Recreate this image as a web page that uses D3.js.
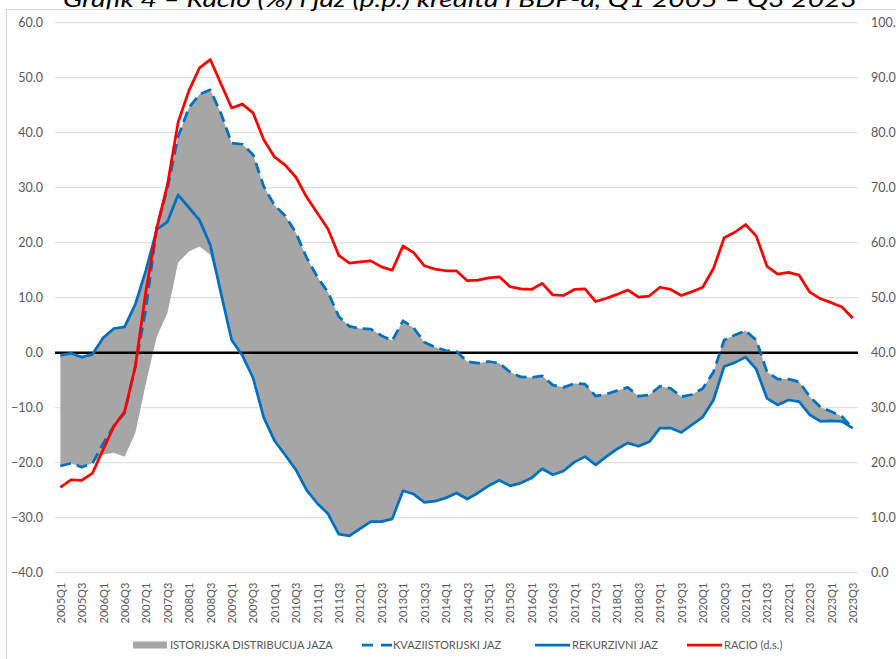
<!DOCTYPE html>
<html>
<head>
<meta charset="utf-8">
<script src="https://cdn.jsdelivr.net/npm/d3@7/dist/d3.min.js"></script>
<style>
  body { margin: 0; background: #fff; }
  svg { display: block; }
  text { font-family: Lato, "Open Sans", sans-serif; }
</style>
</head>
<body>
<div id="chart"></div>
<script>
const quarters = [
  "2005Q1","2005Q2","2005Q3","2005Q4","2006Q1","2006Q2","2006Q3","2006Q4",
  "2007Q1","2007Q2","2007Q3","2007Q4","2008Q1","2008Q2","2008Q3","2008Q4",
  "2009Q1","2009Q2","2009Q3","2009Q4","2010Q1","2010Q2","2010Q3","2010Q4",
  "2011Q1","2011Q2","2011Q3","2011Q4","2012Q1","2012Q2","2012Q3","2012Q4",
  "2013Q1","2013Q2","2013Q3","2013Q4","2014Q1","2014Q2","2014Q3","2014Q4",
  "2015Q1","2015Q2","2015Q3","2015Q4","2016Q1","2016Q2","2016Q3","2016Q4",
  "2017Q1","2017Q2","2017Q3","2017Q4","2018Q1","2018Q2","2018Q3","2018Q4",
  "2019Q1","2019Q2","2019Q3","2019Q4","2020Q1","2020Q2","2020Q3","2020Q4",
  "2021Q1","2021Q2","2021Q3","2021Q4","2022Q1","2022Q2","2022Q3","2022Q4",
  "2023Q1","2023Q2","2023Q3"
];

// kvaziistorijski jaz (p.p.)
const kvazi = [
  -20.6, -20.1, -20.8, -20.1, -16.5, -13.3, -11.0, -2.5, 8.0, 22.8,
  29.8, 39.3, 44.5, 47.0, 47.8, 43.5, 38.1, 37.9, 36.0, 30.2,
  26.8, 24.9, 21.8, 17.3, 13.8, 11.0, 6.6, 4.8, 4.4, 4.3,
  3.1, 2.2, 5.8, 4.5, 1.9, 1.0, 0.4, 0.2, -1.6, -1.9,
  -1.6, -1.9, -3.5, -4.4, -4.5, -4.2, -5.9, -6.3, -5.6, -5.7,
  -7.9, -7.5, -6.9, -6.3, -7.9, -7.7, -6.1, -6.5, -8.0, -7.6,
  -6.5, -3.5, 2.3, 3.2, 4.0, 2.3, -3.5, -4.8, -4.8, -5.3,
  -8.0, -9.9, -10.7, -11.6, -13.7
];

// rekurzivni jaz (p.p.)
const rekurzivni = [
  -0.5, -0.1, -0.8, -0.3, 2.7, 4.4, 4.7, 8.8, 15.0, 22.4,
  23.8, 28.7, 26.4, 24.1, 19.6, 10.8, 2.3, -0.5, -4.6, -11.8,
  -16.0, -18.6, -21.3, -25.0, -27.4, -29.3, -33.0, -33.3, -32.0, -30.7,
  -30.7, -30.2, -25.1, -25.7, -27.2, -27.0, -26.4, -25.5, -26.6, -25.5,
  -24.2, -23.2, -24.2, -23.7, -22.8, -21.1, -22.2, -21.5, -19.9, -18.9,
  -20.4, -18.9, -17.5, -16.4, -17.0, -16.2, -13.7, -13.7, -14.5, -13.1,
  -11.7, -8.6, -2.5, -1.8, -0.8, -3.0, -8.3, -9.5, -8.6, -8.9,
  -11.3, -12.5, -12.4, -12.5, -13.7
];

// racio kredita i BDP-a (%), desna skala
const racio = [
  15.5, 16.9, 16.8, 18.1, 22.4, 26.6, 29.3, 37.5, 51.3, 62.6,
  70.5, 81.9, 87.6, 91.8, 93.3, 88.9, 84.5, 85.2, 83.6, 78.7,
  75.6, 74.1, 71.9, 68.3, 65.4, 62.5, 57.7, 56.3, 56.5, 56.7,
  55.6, 55.0, 59.4, 58.2, 55.8, 55.2, 54.9, 54.9, 53.1, 53.2,
  53.6, 53.8, 52.0, 51.6, 51.5, 52.6, 50.5, 50.4, 51.5, 51.6,
  49.3, 49.9, 50.6, 51.4, 50.1, 50.3, 51.9, 51.5, 50.4, 51.1,
  51.9, 55.3, 60.9, 61.9, 63.3, 61.2, 55.7, 54.3, 54.6, 54.1,
  51.0, 49.8, 49.1, 48.3, 46.3
];

// istorijska distribucija jaza: donja i gornja granica
const histLow = [
  -20.6, -20.1, -20.8, -20.1, -18.5, -18.2, -18.9, -14.6, -5.5, 2.9,
  7.2, 16.4, 18.4, 19.3, 17.8, 10.8, 2.3, -0.5, -4.6, -11.8,
  -16.0, -18.6, -21.3, -25.0, -27.4, -29.3, -33.0, -33.3, -32.0, -30.7,
  -30.7, -30.2, -25.1, -25.7, -27.2, -27.0, -26.4, -25.5, -26.6, -25.5,
  -24.2, -23.2, -24.2, -23.7, -22.8, -21.1, -22.2, -21.5, -19.9, -18.9,
  -20.4, -18.9, -17.5, -16.4, -17.0, -16.2, -13.7, -13.7, -14.5, -13.1,
  -11.7, -8.6, -2.5, -1.8, -0.8, -3.0, -8.3, -9.5, -8.6, -8.9,
  -11.3, -12.5, -12.4, -12.5, -13.7
];
const histHigh = [
  -0.5, -0.1, -0.8, -0.3, 2.7, 4.4, 4.7, 8.8, 15.0, 22.8,
  29.8, 39.3, 44.5, 47.0, 47.8, 43.5, 38.1, 37.9, 36.0, 30.2,
  26.8, 24.9, 21.8, 17.3, 13.8, 11.0, 6.6, 4.8, 4.4, 4.3,
  3.1, 2.2, 5.8, 4.5, 1.9, 1.0, 0.4, 0.2, -1.6, -1.9,
  -1.6, -1.9, -3.5, -4.4, -4.5, -4.2, -5.9, -6.3, -5.6, -5.7,
  -7.9, -7.5, -6.9, -6.3, -7.9, -7.7, -6.1, -6.5, -8.0, -7.6,
  -6.5, -3.5, 2.3, 3.2, 4.0, 2.3, -3.5, -4.8, -4.8, -5.3,
  -8.0, -9.9, -10.7, -11.6, -13.7
];

const leftTicks = [-40, -30, -20, -10, 0, 10, 20, 30, 40, 50, 60];
const rightTicks = [0, 10, 20, 30, 40, 50, 60, 70, 80, 90, 100];

const legendItems = [
  { label: "ISTORIJSKA DISTRIBUCIJA JAZA", type: "area" },
  { label: "KVAZIISTORIJSKI JAZ", type: "dash" },
  { label: "REKURZIVNI JAZ", type: "blue" },
  { label: "RACIO (d.s.)", type: "red" }
];

const titleText = "Grafik 4 – Racio (%) i jaz (p.p.) kredita i BDP-a, Q1 2005 – Q3 2023";

const W = 896, H = 659;
const plotLeft = 55, plotRight = 858, plotTop = 22.7, plotBottom = 572.7;
const blue = "#0070c0", red = "#ff0000", grey = "#a6a6a6", textCol = "#595959";

const svg = d3.select("#chart").append("svg").attr("width", W).attr("height", H);

// chart frame + title above it (cut by the top edge, as in the original)
svg.append("rect")
  .attr("x", 6.5).attr("y", 9.5)
  .attr("width", W).attr("height", H)
  .attr("fill", "none").attr("stroke", "#d9d9d9");

svg.append("text")
  .attr("x", 63).attr("y", 6.5)
  .attr("textLength", 794).attr("lengthAdjust", "spacingAndGlyphs")
  .attr("font-size", 22).attr("font-style", "italic")
  .attr("fill", "#000")
  .text(titleText);

const x = d3.scalePoint().domain(quarters).range([plotLeft, plotRight]).padding(0.5);
const yL = d3.scaleLinear().domain([-40, 60]).range([plotBottom, plotTop]);
const yR = d3.scaleLinear().domain([0, 100]).range([plotBottom, plotTop]);

// gridlines
svg.append("g")
  .selectAll("line")
  .data(leftTicks.filter(d => d !== 0))
  .join("line")
  .attr("x1", plotLeft).attr("x2", plotRight)
  .attr("y1", d => yL(d)).attr("y2", d => yL(d))
  .attr("stroke", "#d9d9d9").attr("stroke-width", 1);

// axes
const axL = svg.append("g")
  .attr("transform", `translate(${plotLeft},0)`)
  .call(d3.axisLeft(yL).tickValues(leftTicks).tickFormat(d3.format(".1f")).tickSize(0).tickPadding(12));
const axR = svg.append("g")
  .attr("transform", `translate(${plotRight},0)`)
  .call(d3.axisRight(yR).tickValues(rightTicks).tickFormat(d3.format(".1f")).tickSize(0).tickPadding(13));
[axL, axR].forEach(g => {
  g.select(".domain").remove();
  g.selectAll("text").attr("fill", textCol).attr("font-size", 12.5).attr("font-family", "Lato, sans-serif");
});

const axB = svg.append("g")
  .attr("transform", `translate(0,${plotBottom})`)
  .call(d3.axisBottom(x).tickValues(quarters.filter((d, i) => i % 2 === 0)).tickSize(0));
axB.select(".domain").remove();
axB.selectAll("text")
  .attr("transform", "rotate(-90)")
  .attr("x", -10).attr("y", 0).attr("dy", "0.35em")
  .attr("text-anchor", "end")
  .attr("fill", textCol).attr("font-size", 11).attr("font-family", "Lato, sans-serif");

// historical distribution band
const band = d3.area()
  .x((d, i) => x(quarters[i]))
  .y0((d, i) => yL(histLow[i]))
  .y1((d, i) => yL(histHigh[i]));
svg.append("path").datum(quarters).attr("d", band).attr("fill", grey);

// zero line
svg.append("line")
  .attr("x1", plotLeft).attr("x2", plotRight)
  .attr("y1", yL(0)).attr("y2", yL(0))
  .attr("stroke", "#000").attr("stroke-width", 2.5);

const lineL = d3.line().x((d, i) => x(quarters[i])).y(d => yL(d));
const lineR = d3.line().x((d, i) => x(quarters[i])).y(d => yR(d));

svg.append("path").datum(kvazi).attr("d", lineL)
  .attr("fill", "none").attr("stroke", blue).attr("stroke-width", 2.75)
  .attr("stroke-dasharray", "11,6").attr("stroke-linejoin", "round");
svg.append("path").datum(rekurzivni).attr("d", lineL)
  .attr("fill", "none").attr("stroke", blue).attr("stroke-width", 2.75)
  .attr("stroke-linejoin", "round");
svg.append("path").datum(racio).attr("d", lineR)
  .attr("fill", "none").attr("stroke", red).attr("stroke-width", 2.75)
  .attr("stroke-linejoin", "round");

// legend
const legendY = 645;
const legendX = [133, 362, 535, 687];
const lg = svg.append("g")
  .selectAll("g")
  .data(legendItems)
  .join("g")
  .attr("transform", (d, i) => `translate(${legendX[i]},${legendY})`);

lg.each(function (d) {
  const g = d3.select(this);
  if (d.type === "area") {
    g.append("rect").attr("x", 0).attr("y", -3.5).attr("width", 34).attr("height", 7).attr("fill", grey);
  } else {
    g.append("line").attr("x1", 0).attr("x2", d.type === "dash" ? 30 : 35).attr("y1", 0).attr("y2", 0)
      .attr("stroke", d.type === "red" ? red : blue).attr("stroke-width", 2.75)
      .attr("stroke-dasharray", d.type === "dash" ? "11,8" : null);
  }
  g.append("text")
    .attr("x", d.type === "dash" ? 31 : 37).attr("y", 0).attr("dy", "0.35em")
    .attr("fill", textCol).attr("font-size", 11.1)
    .text(d.label);
});
</script>
</body>
</html>
